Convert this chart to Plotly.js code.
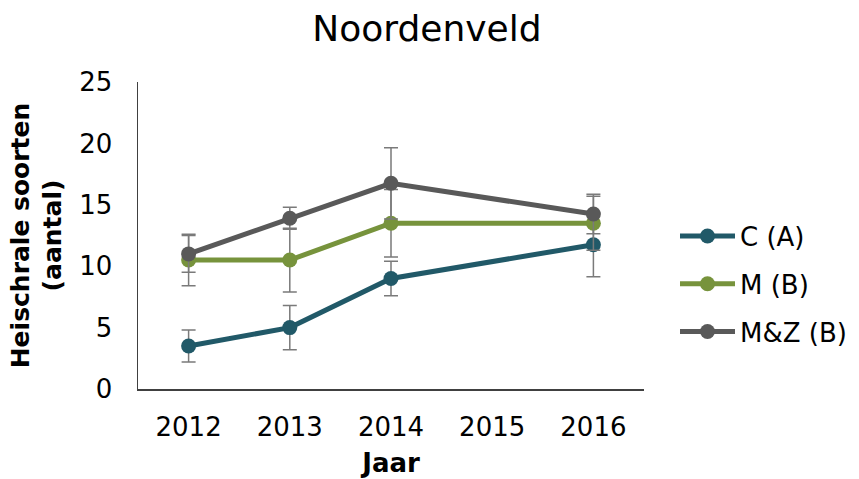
<!DOCTYPE html>
<html>
<head>
<meta charset="utf-8">
<script src="https://cdn.plot.ly/plotly-3.0.1.min.js"></script>
<style>html,body{margin:0;padding:0;background:#fff;}#chart{width:859px;height:479px;}</style>
</head>
<body>
<div id="chart"></div>
<script>
const years = [2012, 2013, 2014, 2016];
const tickYears = [2012, 2013, 2014, 2015, 2016];

const seriesNames = ["C (A)", "M (B)", "M&Z (B)"];
const cValues = [3.5, 5.0, 9.0, 11.75];
const cErrors = [1.3, 1.8, 1.4, 2.6];
const mValues = [10.5, 10.5, 13.5, 13.5];
const mErrors = [2.1, 2.6, 2.75, 2.2];
const mzValues = [11.0, 13.9, 16.75, 14.25];
const mzErrors = [1.5, 0.9, 2.9, 1.6];

const colors = ["#215968", "#77933C", "#595959"];
const font = "DejaVu Sans, Verdana, sans-serif";

function mk(name, vals, errs, color, grp) {
  return {
    type: "scatter", mode: "lines+markers", name: name, legendgroup: grp,
    x: years, y: vals,
    line: {color: color, width: 5},
    marker: {color: color, size: 15},
    error_y: {type: "data", array: errs, visible: true, color: "#7a7a7a", thickness: 1.5, width: 7}
  };
}

const data = [
  mk(seriesNames[0], cValues, cErrors, colors[0], "a"),
  mk(seriesNames[1], mValues, mErrors, colors[1], "b"),
  mk(seriesNames[2], mzValues, mzErrors, colors[2], "c")
];

const layout = {
  width: 859, height: 479,
  margin: {l: 138, r: 215, t: 82, b: 90},
  paper_bgcolor: "#fff", plot_bgcolor: "#fff",
  font: {family: font, color: "#000", size: 26},
  title: {text: "Noordenveld", font: {family: font, size: 36, color: "#000"}, x: 0.497, xanchor: "center", y: 0.94, yanchor: "middle"},
  xaxis: {
    range: [2011.5, 2016.5], tickvals: tickYears, ticktext: tickYears.map(String),
    showgrid: false, zeroline: false, showline: true, linecolor: "#404040", linewidth: 1.5,
    ticks: "", ticklabelstandoff: 14,
    tickfont: {family: font, size: 26},
    title: {text: "<b>Jaar</b>", font: {family: font, size: 26}, standoff: 13}
  },
  yaxis: {
    range: [0, 25], tickvals: [0, 5, 10, 15, 20, 25],
    showgrid: false, zeroline: false, showline: true, linecolor: "#404040", linewidth: 1.5,
    ticks: "", ticklabelstandoff: 19,
    tickfont: {family: font, size: 26},
    title: {text: "<b>Heischrale soorten<br>(aantal)</b>", font: {family: font, size: 25}, standoff: 10}
  },
  showlegend: true,
  legend: {
    xref: "container", yref: "container",
    x: 0.7858, xanchor: "left", y: 0.407, yanchor: "middle", itemwidth: 55,
    font: {family: font, size: 26}, tracegroupgap: 11, bgcolor: "rgba(0,0,0,0)"
  }
};

Plotly.newPlot("chart", data, layout, {displayModeBar: false, staticPlot: true});
</script>
</body>
</html>
